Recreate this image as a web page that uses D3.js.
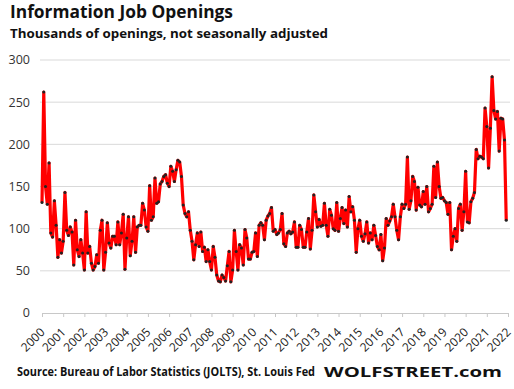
<!DOCTYPE html>
<html>
<head>
<meta charset="utf-8">
<script src="https://cdn.jsdelivr.net/npm/d3@7"></script>
<style>
    body { margin: 0; background: #ffffff; }
    svg text { font-family: "Open Sans", "DejaVu Sans", sans-serif; }
</style>
</head>
<body>
<div id="chart"></div>
<script>
// Monthly openings (thousands)
const openings = [
    131, 262, 150, 129, 178, 95, 90, 133, 104, 66,
    87, 71, 85, 143, 98, 92, 102, 96, 57, 110,
    75, 67, 87, 71, 51, 120, 71, 79, 59, 51,
    55, 69, 59, 98, 110, 51, 72, 107, 83, 77,
    91, 91, 81, 108, 81, 95, 117, 52, 89, 114,
    68, 85, 114, 72, 102, 104, 104, 130, 122, 102,
    97, 151, 110, 114, 160, 130, 132, 153, 156, 162,
    164, 154, 150, 174, 168, 156, 170, 181, 179, 162,
    128, 118, 114, 120, 98, 85, 63, 81, 95, 79,
    96, 73, 78, 61, 75, 61, 51, 79, 66, 45,
    38, 37, 45, 42, 38, 56, 73, 37, 51, 98,
    73, 51, 81, 77, 57, 99, 89, 64, 64, 72,
    73, 95, 67, 104, 107, 104, 87, 110, 115, 118,
    125, 97, 99, 93, 95, 99, 118, 82, 79, 95,
    97, 94, 96, 108, 78, 78, 104, 99, 78, 78,
    96, 112, 76, 98, 140, 120, 102, 111, 103, 104,
    130, 104, 91, 123, 116, 100, 98, 131, 97, 112,
    125, 106, 122, 102, 138, 120, 126, 110, 72, 100,
    110, 91, 85, 94, 108, 83, 95, 87, 104, 92,
    79, 75, 93, 62, 77, 112, 104, 109, 114, 129,
    114, 98, 87, 114, 129, 124, 129, 185, 123, 133,
    162, 156, 122, 149, 128, 126, 144, 129, 150, 120,
    124, 129, 174, 137, 179, 150, 136, 137, 133, 131,
    117, 131, 75, 91, 100, 85, 124, 129, 98, 120,
    168, 108, 107, 132, 136, 143, 194, 183, 186, 185,
    183, 243, 221, 172, 219, 280, 240, 230, 239, 192,
    231, 230, 205, 110
];
const years = d3.range(2000, 2023);
const yTicks = [0, 50, 100, 150, 200, 250, 300];

const titleText = "Information  Job Openings";
const subtitleText = "Thousands of openings, not seasonally adjusted";
const sourceText = "Source: Bureau of Labor Statistics (JOLTS), St. Louis Fed";
const brandText = "WOLFSTREET.com";

const width = 514, height = 389;

const svg = d3.select("#chart").append("svg")
    .attr("width", width)
    .attr("height", height);

const x = d3.scaleLinear()
    .domain([0, (years.length - 1) * 12])
    .range([42, 508]);
const y = d3.scaleLinear()
    .domain([0, 300])
    .range([313, 60]);

// Gridlines
svg.append("g")
    .selectAll("line")
    .data(yTicks.filter(d => d > 0))
    .join("line")
    .attr("x1", 40)
    .attr("x2", 510)
    .attr("y1", d => y(d))
    .attr("y2", d => y(d))
    .attr("stroke", "#d9d9d9")
    .attr("stroke-width", 1);

// Y labels
svg.append("g")
    .selectAll("text")
    .data(yTicks)
    .join("text")
    .attr("x", 30)
    .attr("y", d => y(d))
    .attr("dy", "0.35em")
    .attr("text-anchor", "end")
    .attr("font-size", 12.5)
    .attr("fill", "#333")
    .text(d => d);

// X axis
const xAxis = svg.append("g")
    .attr("transform", "translate(0," + y(0) + ")")
    .call(d3.axisBottom(x)
        .tickValues(years.map((d, i) => i * 12))
        .tickSize(4)
        .tickFormat((d, i) => years[i]));
xAxis.select(".domain").attr("stroke", "#c8c8c8");
xAxis.selectAll(".tick line").attr("stroke", "#c8c8c8");
xAxis.selectAll(".tick text")
    .attr("font-size", 12)
    .attr("font-family", "\"Open Sans\", sans-serif")
    .attr("fill", "#222")
    .attr("text-anchor", "end")
    .attr("x", 0)
    .attr("y", 0)
    .attr("dy", 0)
    .attr("transform", "translate(3,20) rotate(-45)");

// Series line
const line = d3.line()
    .x((d, i) => x(i))
    .y(d => y(d));

svg.append("path")
    .datum(openings)
    .attr("d", line)
    .attr("fill", "none")
    .attr("stroke", "#ff0000")
    .attr("stroke-width", 3.2)
    .attr("stroke-linejoin", "round");

svg.append("g")
    .selectAll("circle")
    .data(openings)
    .join("circle")
    .attr("cx", (d, i) => x(i))
    .attr("cy", d => y(d))
    .attr("r", 1.5)
    .attr("fill", "#222");

// Titles
svg.append("text")
    .attr("x", 10)
    .attr("y", 17.5)
    .attr("font-size", 18)
    .attr("font-weight", "bold")
    .attr("fill", "#111")
    .attr("textLength", 223)
    .attr("lengthAdjust", "spacingAndGlyphs")
    .text(titleText);

svg.append("text")
    .attr("x", 10)
    .attr("y", 38)
    .attr("font-size", 13)
    .attr("font-weight", "bold")
    .attr("fill", "#111")
    .attr("textLength", 318)
    .attr("lengthAdjust", "spacingAndGlyphs")
    .text(subtitleText);

// Footer
svg.append("text")
    .attr("x", 17)
    .attr("y", 376)
    .attr("font-size", 11.5)
    .attr("font-weight", "bold")
    .attr("font-family", "Lato, \"Open Sans\", sans-serif")
    .attr("fill", "#111")
    .attr("textLength", 298)
    .attr("lengthAdjust", "spacingAndGlyphs")
    .text(sourceText);

svg.append("text")
    .attr("x", 324)
    .attr("y", 377)
    .attr("font-size", 15)
    .attr("font-weight", "bold")
    .attr("fill", "#111")
    .attr("textLength", 178)
    .attr("lengthAdjust", "spacingAndGlyphs")
    .text(brandText);
</script>
</body>
</html>
